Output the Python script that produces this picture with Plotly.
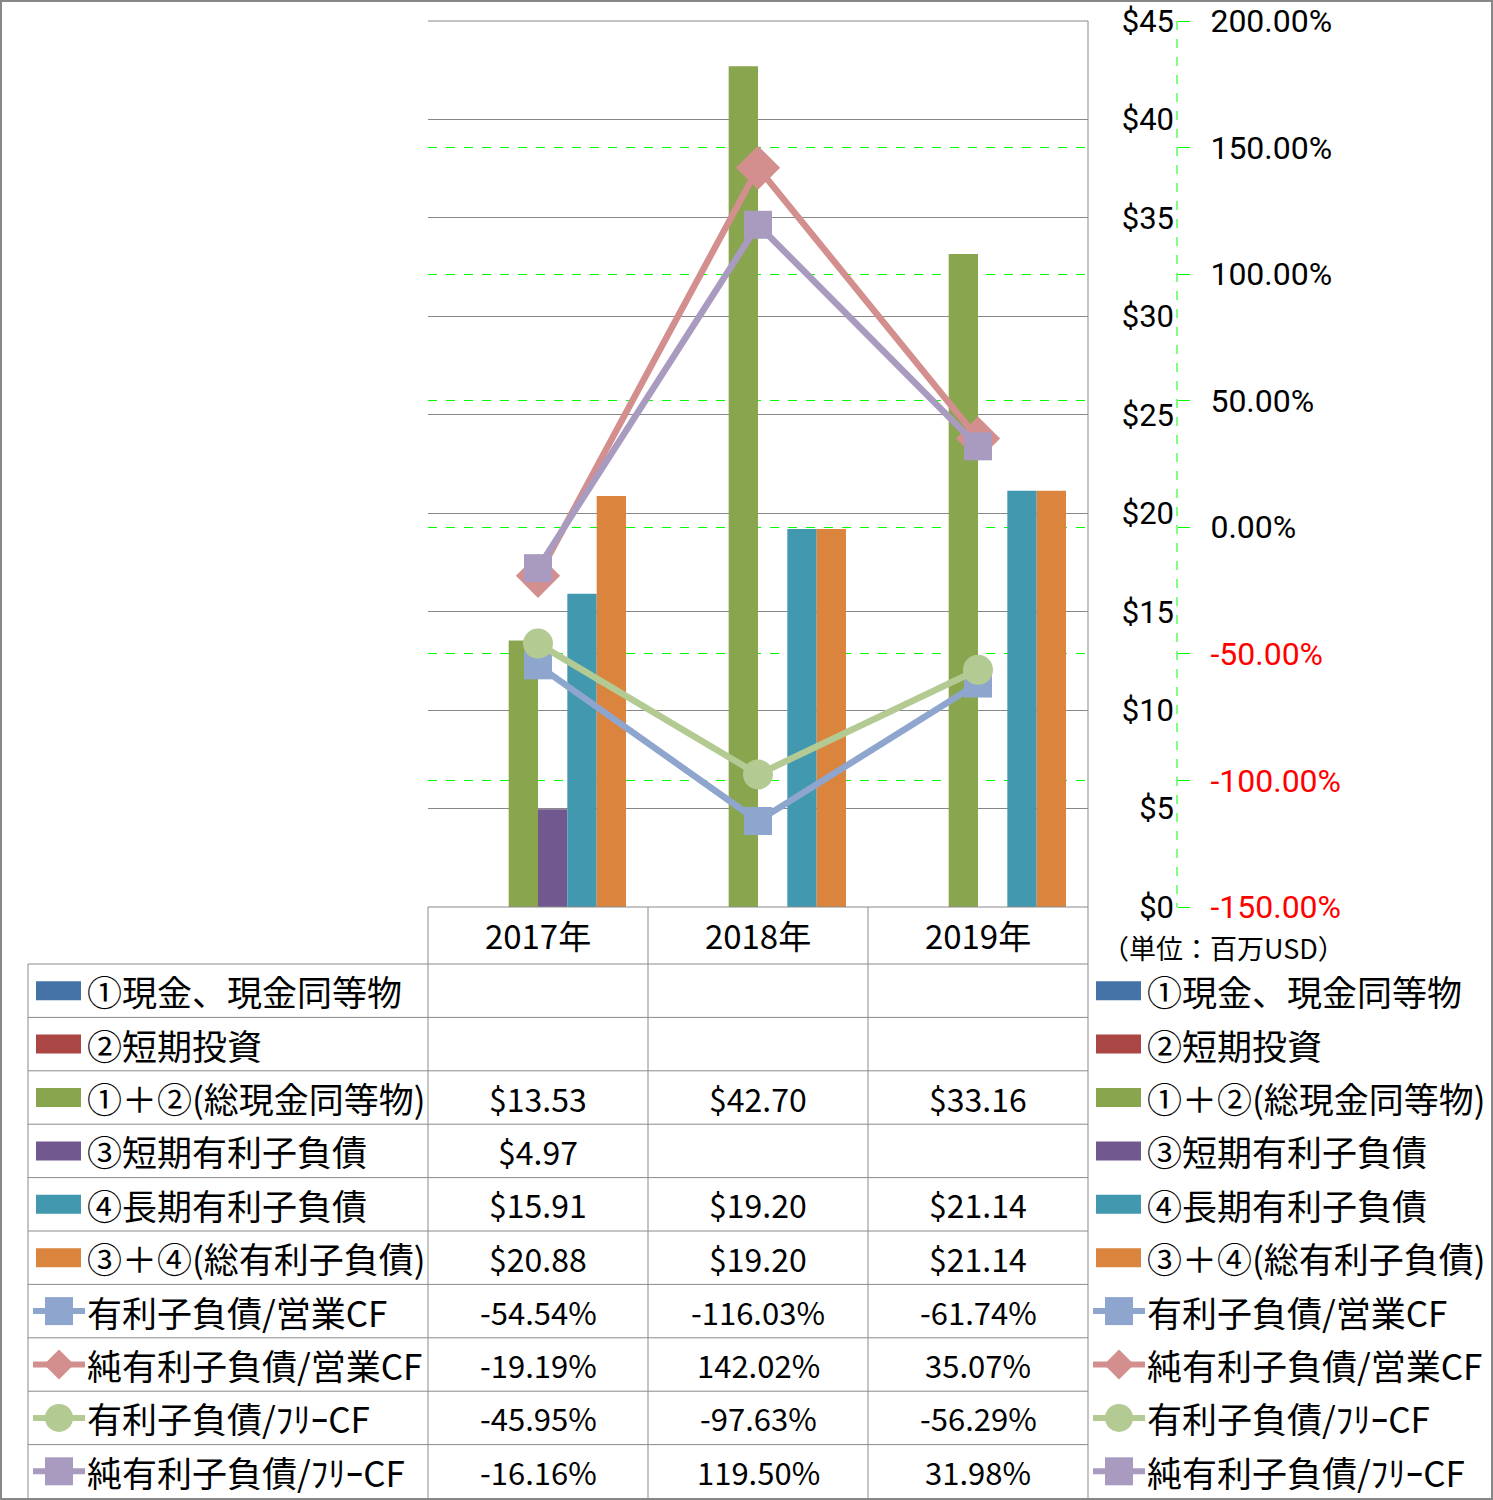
import plotly.graph_objects as go

W, H = 1493, 1500
FONT = "Noto Sans CJK JP"
TICK_FONT = "Roboto"

# ---------------- data ----------------
years = ["2017年", "2018年", "2019年"]
cash = [None, None, None]                 # ①現金、現金同等物
short_inv = [None, None, None]            # ②短期投資
total_cash = [13.53, 42.70, 33.16]        # ①＋②
short_debt = [4.97, None, None]           # ③
long_debt = [15.91, 19.20, 21.14]         # ④
total_debt = [20.88, 19.20, 21.14]        # ③＋④
debt_ocf = [-54.54, -116.03, -61.74]      # 有利子負債/営業CF (%)
net_debt_ocf = [-19.19, 142.02, 35.07]    # 純有利子負債/営業CF (%)
debt_fcf = [-45.95, -97.63, -56.29]       # 有利子負債/ﾌﾘｰCF (%)
net_debt_fcf = [-16.16, 119.50, 31.98]    # 純有利子負債/ﾌﾘｰCF (%)

bar_names = ["①現金、現金同等物", "②短期投資", "①＋②(総現金同等物)",
             "③短期有利子負債", "④長期有利子負債", "③＋④(総有利子負債)"]
line_names = ["有利子負債/営業CF", "純有利子負債/営業CF",
              "有利子負債/ﾌﾘｰCF", "純有利子負債/ﾌﾘｰCF"]
y_ticks = [0, 5, 10, 15, 20, 25, 30, 35, 40, 45]
y2_ticks = [-150, -100, -50, 0, 50, 100, 150, 200]
unit_label = "（単位：百万USD）"

bar_values = [cash, short_inv, total_cash, short_debt, long_debt, total_debt]
line_values = [debt_ocf, net_debt_ocf, debt_fcf, net_debt_fcf]

bar_colors = ["#4572A7", "#AA4643", "#89A54E", "#71588F", "#4198AF", "#DB843D"]
line_colors = ["#8EA5CD", "#D28F8D", "#B3CB93", "#A89BBF"]
line_symbols = ["square", "diamond", "circle", "square"]
line_msizes = [28, 34, 30, 28]


def X(px):
    return px / W


def Y(py):
    return 1 - py / H


fig = go.Figure()

for name, vals, col in zip(bar_names, bar_values, bar_colors):
    fig.add_trace(go.Bar(x=years, y=vals, name=name, marker_color=col,
                         marker_line_width=0, yaxis="y"))

for name, vals, col, sym, ms in zip(line_names, line_values, line_colors,
                                    line_symbols, line_msizes):
    fig.add_trace(go.Scatter(x=years, y=vals, name=name, yaxis="y2",
                             mode="lines+markers",
                             line=dict(color=col, width=6.5),
                             marker=dict(symbol=sym, size=ms, color=col,
                                         line=dict(width=0))))

PLOT_L, PLOT_R, PLOT_T, PLOT_B = 428, 1088, 21, 907
AX2_X = 1177
EPS = 1e-6
GRAY = "#8A8A8A"

y2_text = []
for v in y2_ticks:
    s = f"{v:.2f}%"
    if v < 0:
        s = f"<span style='color:#FF0000'>{s}</span>"
    y2_text.append(s)

fig.update_layout(
    width=W, height=H, autosize=False,
    margin=dict(l=0, r=0, t=0, b=0, pad=0, autoexpand=False),
    paper_bgcolor="white", plot_bgcolor="white",
    font=dict(family=FONT, color="black", size=31),
    showlegend=False,
    barmode="group", bargap=0.2, bargroupgap=0,
    xaxis=dict(domain=[X(PLOT_L), X(PLOT_R)], type="category",
               showgrid=False, showline=False, zeroline=False, ticks="",
               tickfont=dict(size=33, family=FONT), ticklabelstandoff=8,
               anchor="y", automargin=False),
    yaxis=dict(domain=[Y(PLOT_B), Y(PLOT_T)], range=[0, 45 + EPS],
               tickvals=y_ticks, ticktext=[f"${v}" for v in y_ticks],
               showgrid=True, gridcolor="#878787", gridwidth=1,
               zeroline=False, showline=False, ticks="",
               anchor="free", position=X(AX2_X), side="left",
               tickfont=dict(size=31, family=TICK_FONT), ticklabelstandoff=3,
               ticklabeloverflow="allow", automargin=False),
    yaxis2=dict(overlaying="y", range=[-150, 200 + EPS],
                tickvals=y2_ticks, ticktext=y2_text,
                showgrid=True, gridcolor="#00FF00", gridwidth=1, griddash="dash",
                zeroline=False, showline=False,
                ticks="outside", ticklen=12, tickcolor="#00FF00", tickwidth=1,
                anchor="free", position=X(AX2_X), side="right",
                tickfont=dict(size=32, family=TICK_FONT), ticklabelstandoff=14,
                ticklabeloverflow="allow", automargin=False),
)

shapes = []
# top border of the plot area (grid line at the top of the value axis)
shapes.append(dict(type="line", xref="paper", yref="paper",
                   x0=X(PLOT_L), x1=X(PLOT_R), y0=Y(PLOT_T), y1=Y(PLOT_T),
                   line=dict(color="#878787", width=1)))
shapes.append(dict(type="line", xref="paper", yref="paper",
                   x0=X(AX2_X), x1=X(AX2_X), y0=Y(PLOT_T), y1=Y(PLOT_B),
                   line=dict(color="#00FF00", width=1, dash="dash")))
shapes.append(dict(type="line", xref="paper", yref="paper",
                   x0=X(PLOT_R), x1=X(PLOT_R), y0=Y(PLOT_T), y1=Y(1500),
                   line=dict(color=GRAY, width=1)))

TBL_L = 28
COL_X = [428, 648, 868, 1088]
HDR_T, HDR_B = 907, 964
ROW_H = 53.4
n_rows = len(bar_names) + len(line_names)
row_tops = [HDR_B + i * ROW_H for i in range(n_rows + 1)]

shapes.append(dict(type="line", xref="paper", yref="paper",
                   x0=X(COL_X[0]), x1=X(COL_X[-1]), y0=Y(HDR_T), y1=Y(HDR_T),
                   line=dict(color=GRAY, width=1)))
for yt in row_tops[:-1]:
    shapes.append(dict(type="line", xref="paper", yref="paper",
                       x0=X(TBL_L), x1=X(COL_X[-1]), y0=Y(yt), y1=Y(yt),
                       line=dict(color=GRAY, width=1)))
shapes.append(dict(type="line", xref="paper", yref="paper",
                   x0=X(TBL_L), x1=X(TBL_L), y0=Y(HDR_B), y1=Y(1500),
                   line=dict(color=GRAY, width=1)))
for cx in COL_X[:-1]:
    shapes.append(dict(type="line", xref="paper", yref="paper",
                       x0=X(cx), x1=X(cx), y0=Y(HDR_T), y1=Y(1500),
                       line=dict(color=GRAY, width=1)))

annotations = []


def key_shapes(x_left, cy, idx):
    out = []
    if idx < len(bar_names):
        out.append(dict(type="rect", xref="paper", yref="paper",
                        x0=X(x_left + 3), x1=X(x_left + 48),
                        y0=Y(cy - 9.5), y1=Y(cy + 9.5),
                        fillcolor=bar_colors[idx], line=dict(width=0)))
    else:
        j = idx - len(bar_names)
        col = line_colors[j]
        sym = line_symbols[j]
        mx = x_left + 26
        out.append(dict(type="line", xref="paper", yref="paper",
                        x0=X(x_left), x1=X(x_left + 52), y0=Y(cy), y1=Y(cy),
                        line=dict(color=col, width=6)))
        if sym == "square":
            out.append(dict(type="rect", xref="paper", yref="paper",
                            x0=X(mx - 14), x1=X(mx + 14),
                            y0=Y(cy - 14), y1=Y(cy + 14),
                            fillcolor=col, line=dict(width=0)))
        elif sym == "circle":
            out.append(dict(type="circle", xref="paper", yref="paper",
                            x0=X(mx - 14), x1=X(mx + 14),
                            y0=Y(cy - 14), y1=Y(cy + 14),
                            fillcolor=col, line=dict(width=0)))
        else:
            r = 15
            path = (f"M {X(mx)} {Y(cy - r)} L {X(mx + r)} {Y(cy)} "
                    f"L {X(mx)} {Y(cy + r)} L {X(mx - r)} {Y(cy)} Z")
            out.append(dict(type="path", xref="paper", yref="paper",
                            path=path, fillcolor=col, line=dict(width=0)))
    return out


all_names = bar_names + line_names
all_values = bar_values + line_values
for i, (name, vals) in enumerate(zip(all_names, all_values)):
    cy = row_tops[i] + ROW_H / 2
    shapes.extend(key_shapes(33, cy, i))
    annotations.append(dict(xref="paper", yref="paper", x=X(85), y=Y(cy),
                            text=name, showarrow=False, xanchor="left",
                            yanchor="middle", font=dict(size=35, family=FONT)))
    shapes.extend(key_shapes(1093, cy, i))
    annotations.append(dict(xref="paper", yref="paper", x=X(1145), y=Y(cy),
                            text=name, showarrow=False, xanchor="left",
                            yanchor="middle", font=dict(size=35, family=FONT)))
    for yr, v in zip(years, vals):
        if v is None:
            continue
        if i < len(bar_names):
            s = f"${v:.2f}"
            fs = 32
        else:
            s = f"{v:.2f}%"
            fs = 31
        annotations.append(dict(xref="x", yref="paper", x=yr, y=Y(cy),
                                text=s, showarrow=False, xanchor="center",
                                yanchor="middle", font=dict(size=fs, family=FONT)))

annotations.append(dict(xref="paper", yref="paper", x=X(1100), y=Y(947),
                        text=unit_label, showarrow=False, xanchor="left",
                        yanchor="middle", font=dict(size=27, family=FONT)))

shapes.append(dict(type="rect", xref="paper", yref="paper",
                   x0=X(1), x1=X(1492), y0=Y(1), y1=Y(1499),
                   line=dict(color="#878787", width=2)))

fig.update_layout(shapes=shapes, annotations=annotations)

fig.write_html("out.html",
               config={"displayModeBar": False},
               post_script="document.body.style.margin='0px';"
                           "document.body.style.overflow='hidden';")
